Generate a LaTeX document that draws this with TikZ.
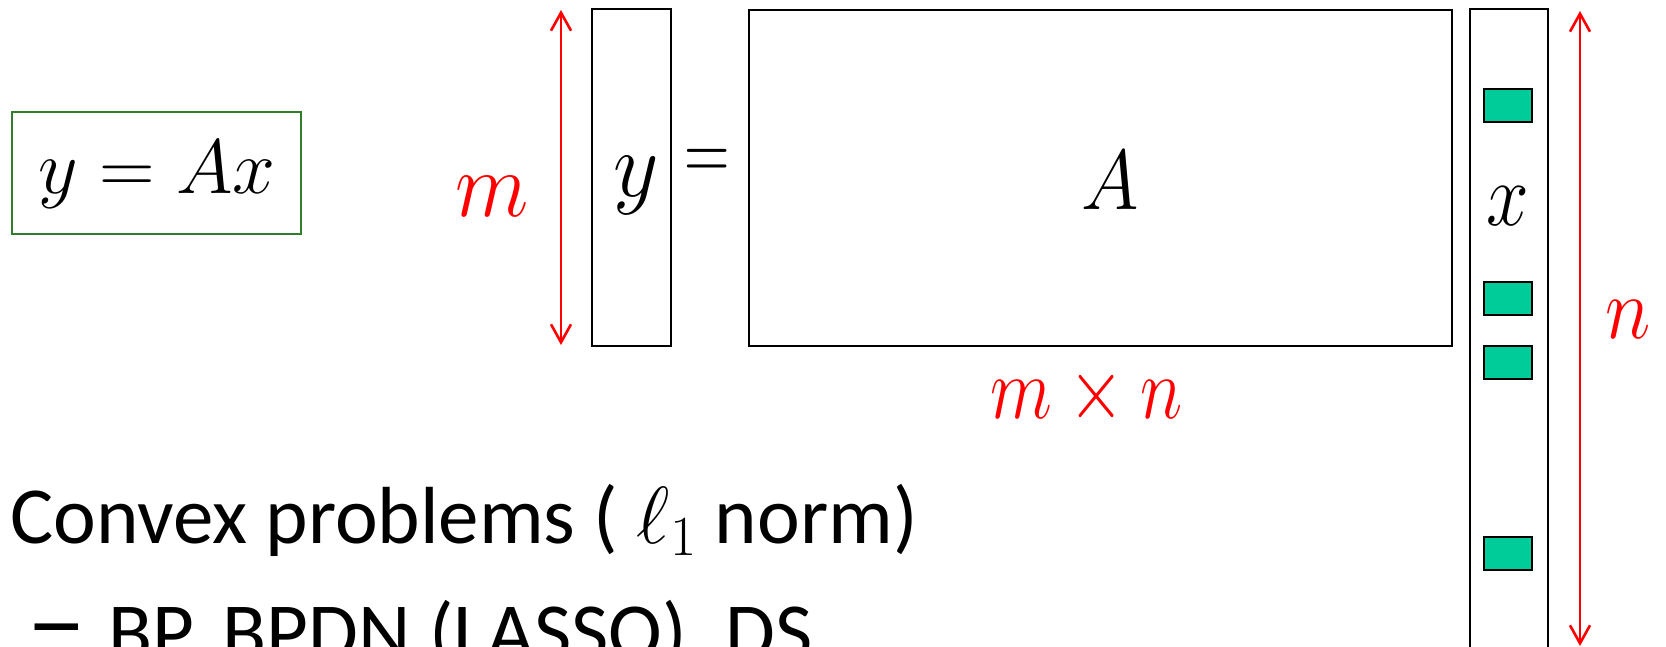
\RequirePackage{fix-cm}
\documentclass[tikz,border=0pt]{standalone}
\usepackage{graphicx}
\usepackage{fontspec}
\newfontfamily\calib{Carlito}
\usetikzlibrary{arrows.meta}
\definecolor{boxgreen}{RGB}{49,125,42}
\definecolor{sparsegreen}{HTML}{00CC99}
\definecolor{dimred}{RGB}{255,0,0}
\newcommand\sqz[2]{\scalebox{#1}[1]{#2}}
\begin{document}
\begin{tikzpicture}[x=1pt,y=-1pt,
  mbox/.style={draw=black,line width=2.4pt,inner sep=0pt,outer sep=0pt,anchor=north west},
  sparsebox/.style={draw=black,line width=2.4pt,fill=sparsegreen,inner sep=0pt,outer sep=0pt,anchor=north west,minimum width=48pt,minimum height=33pt},
  dimarrow/.style={draw=dimred,line width=2.6pt,{Straight Barb[length=18pt,width=20pt]}-{Straight Barb[length=18pt,width=20pt]}},
  lbl/.style={anchor=base,inner sep=0pt},
  redlbl/.style={anchor=base,inner sep=0pt,text=dimred},
  bodytext/.style={anchor=base west,inner sep=0pt,font=\calib\fontsize{81}{97}\selectfont}]
\useasboundingbox (0,0) rectangle (1666,647);
\clip (0,0) rectangle (1666,647);
% boxed equation
\node[mbox,draw=boxgreen,minimum width=289pt,minimum height=122pt] (eqbox) at (12,112) {};
\node[lbl,font=\fontsize{77}{90}\selectfont] (eq) at (157,194) {$y=Ax$};
% m arrow
\coordinate (mtop) at (561,10);
\coordinate (mbot) at (561,345);
\draw[dimarrow] (mtop) -- (mbot);
\node[redlbl,font=\fontsize{93}{110}\selectfont] (mlbl) at (492,217) {\sqz{0.92}{$m$}};
% y vector
\node[mbox,minimum width=79pt,minimum height=337pt] (ybox) at (592,9) {};
\node[lbl,font=\fontsize{93}{110}\selectfont] (ylbl) at (636,197) {\sqz{0.95}{$y$}};
\node[lbl,font=\fontsize{70}{84}\selectfont] (eqsign) at (707,181) {\scalebox{0.9}[1.25]{$=$}};
% A matrix
\node[mbox,minimum width=703pt,minimum height=336pt] (abox) at (749,10) {};
\node[lbl,font=\fontsize{85}{100}\selectfont] (albl) at (1110,210) {\sqz{0.92}{$A$}};
\node[redlbl,font=\fontsize{88}{104}\selectfont] (mnlbl) at (1087,418) {\sqz{0.82}{$m\times n$}};
% x vector
\node[mbox,minimum width=78pt,minimum height=700pt] (xbox) at (1470,9) {};
\node[lbl,font=\fontsize{90}{106}\selectfont] (xlbl) at (1508,226) {\sqz{0.85}{$x$}};
\node[sparsebox] (s1) at (1484,89) {};
\node[sparsebox] (s2) at (1484,282) {};
\node[sparsebox] (s3) at (1484,346) {};
\node[sparsebox] (s4) at (1484,537) {};
% n arrow
\coordinate (ntop) at (1580,11);
\coordinate (nbot) at (1580,646);
\draw[dimarrow] (ntop) -- (nbot);
\node[redlbl,font=\fontsize{88}{104}\selectfont] (nlbl) at (1628,338) {\sqz{0.88}{$n$}};
% text
\node[bodytext] (convex) at (10,543) {Convex problems ( $\ell_1$ norm)};
\node[bodytext] (dash) at (26,656) {\scalebox{1.5}[1.3]{–}};
\node[bodytext] (methods) at (108,659) {BP, BPDN (LASSO), DS};
\end{tikzpicture}
\end{document}
